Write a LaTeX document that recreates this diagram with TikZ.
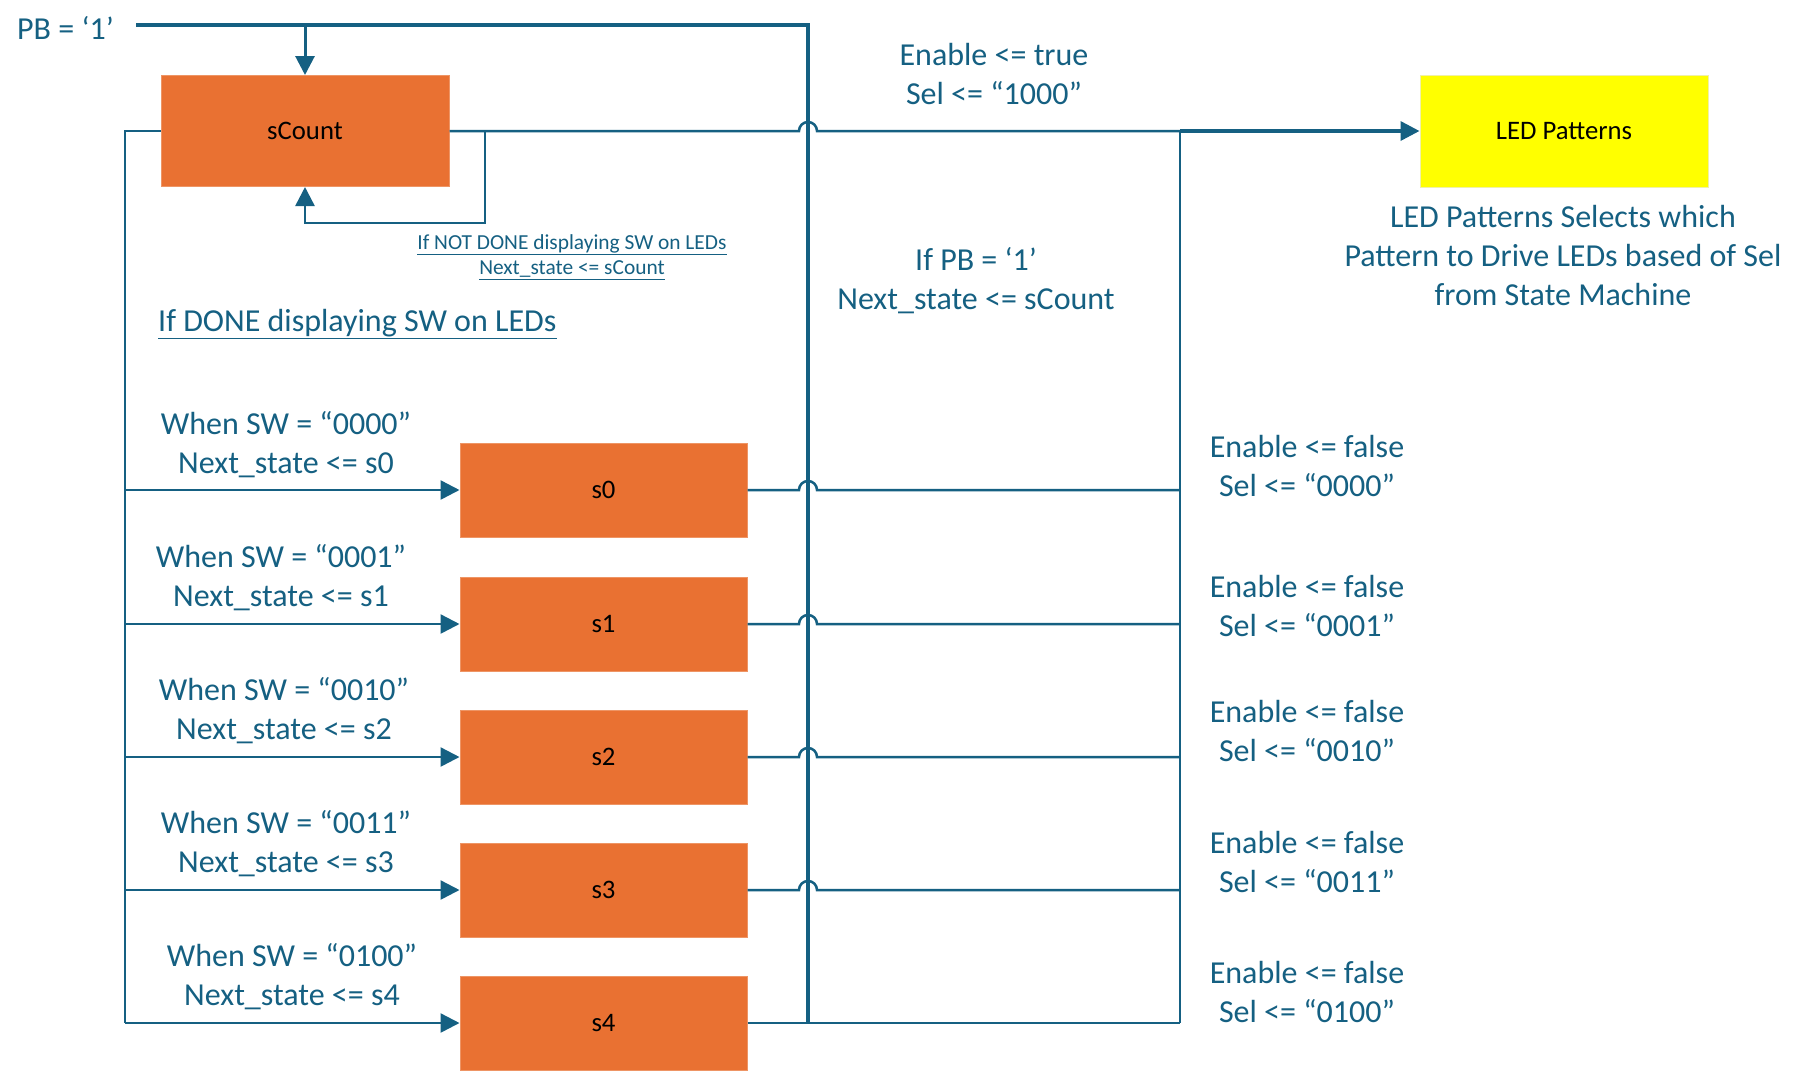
\documentclass[tikz,border=0pt]{standalone}
\usepackage{fontspec}
\setmainfont{Carlito}
\usetikzlibrary{arrows.meta}
\definecolor{ln}{HTML}{156082}
\definecolor{org}{HTML}{E97132}
\definecolor{ylw}{HTML}{FFFF00}
\tikzset{
  wire/.style={draw=ln, line width=2.5pt},
  thick wire/.style={draw=ln, line width=3.5pt},
  arr/.style={wire, -{Triangle[length=19pt,width=19pt]}},
  statebox/.style={draw=org!75!white, line width=1pt, fill=org, minimum width=287pt, minimum height=94pt, inner sep=0pt, text=black, font=\fontsize{26.7}{32}\selectfont},
  lbl/.style={text=ln, align=center, inner sep=0pt, font=\fontsize{32}{39}\selectfont},
  smalllbl/.style={text=ln, align=center, inner sep=0pt, font=\fontsize{21.4}{25.5}\selectfont},
}
\begin{document}
\begin{tikzpicture}[x=1pt,y=-1pt]
\useasboundingbox[fill=white] (0,0) rectangle (1808,1072);

% nodes
\node[statebox, minimum width=288pt, minimum height=111pt] (sc) at (305,131) {sCount};
\node[statebox] (s0) at (603.5,490) {s0};
\node[statebox] (s1) at (603.5,624) {s1};
\node[statebox] (s2) at (603.5,757) {s2};
\node[statebox] (s3) at (603.5,890) {s3};
\node[statebox] (s4) at (603.5,1023) {s4};
\node[statebox, fill=ylw, draw=ylw!70!gray!40!white, minimum width=288pt, minimum height=112pt] (led) at (1564,131) {LED Patterns};

% labels
\node[lbl, anchor=west] (pb) at (17,28) {PB = ‘1’};
\node[lbl] (tl) at (994,74) {Enable <= true\\Sel <= “1000”};
\node[lbl] (ifpb) at (976,281) {If PB = ‘1’\\Next\_state <= sCount};
\node[lbl] (desc) at (1563,255) {LED Patterns Selects which\\Pattern to Drive LEDs based of Sel\\from State Machine};
\node[smalllbl] (nd) at (572,257) {\underline{If NOT DONE displaying SW on LEDs}\\\underline{Next\_state <= sCount}};
\node[lbl, anchor=west] (dn) at (158,324) {\underline{If DONE displaying SW on LEDs}};

\node[lbl] (w0) at (286,445) {When SW = “0000”\\Next\_state <= s0};
\node[lbl] (w1) at (281,578) {When SW = “0001”\\Next\_state <= s1};
\node[lbl] (w2) at (284,711) {When SW = “0010”\\Next\_state <= s2};
\node[lbl] (w3) at (286,844) {When SW = “0011”\\Next\_state <= s3};
\node[lbl] (w4) at (292,977) {When SW = “0100”\\Next\_state <= s4};

\node[lbl] (e0) at (1307,466) {Enable <= false\\Sel <= “0000”};
\node[lbl] (e1) at (1307,606) {Enable <= false\\Sel <= “0001”};
\node[lbl] (e2) at (1307,731) {Enable <= false\\Sel <= “0010”};
\node[lbl] (e3) at (1307,862) {Enable <= false\\Sel <= “0011”};
\node[lbl] (e4) at (1307,992) {Enable <= false\\Sel <= “0100”};

% coordinates
\coordinate (pbs) at (136,25);
\coordinate (vt) at (808,25);
\coordinate (vb) at (808,1023);
\coordinate (lt) at (125,131);
\coordinate (lb) at (125,1023);
\coordinate (rt) at (1180,131);
\coordinate (rb) at (1180,1023);

% PB line and vertical bus
\draw[thick wire] (pbs) -- (vt) -- (vb);
\draw[arr, line width=3pt] (sc.north |- pbs) -- (sc.north);

% sCount to LED patterns
\draw[wire] (sc.east) -- (799,131) arc (180:0:9pt) -- (rt);
\draw[thick wire, -{Triangle[length=19pt,width=19pt]}] (rt) -- (led.west);

% self loop
\draw[arr] (sc.east) -| (485,223) -| (sc.south);

% left bus
\draw[wire] (sc.west) -- (lt) -- (lb);
% right bus
\draw[wire] (rt) -- (rb);

% state inputs
\foreach \s/\y in {s0/490,s1/624,s2/757,s3/890,s4/1023}{
  \draw[arr] (125,\y) -- (\s.west);
}
% state outputs
\foreach \s/\y in {s0/490,s1/624,s2/757,s3/890}{
  \draw[wire] (\s.east) -- (799,\y) arc (180:0:9pt) -- (1180,\y);
}
\draw[wire] (s4.east) -- (rb);
\end{tikzpicture}
\end{document}
